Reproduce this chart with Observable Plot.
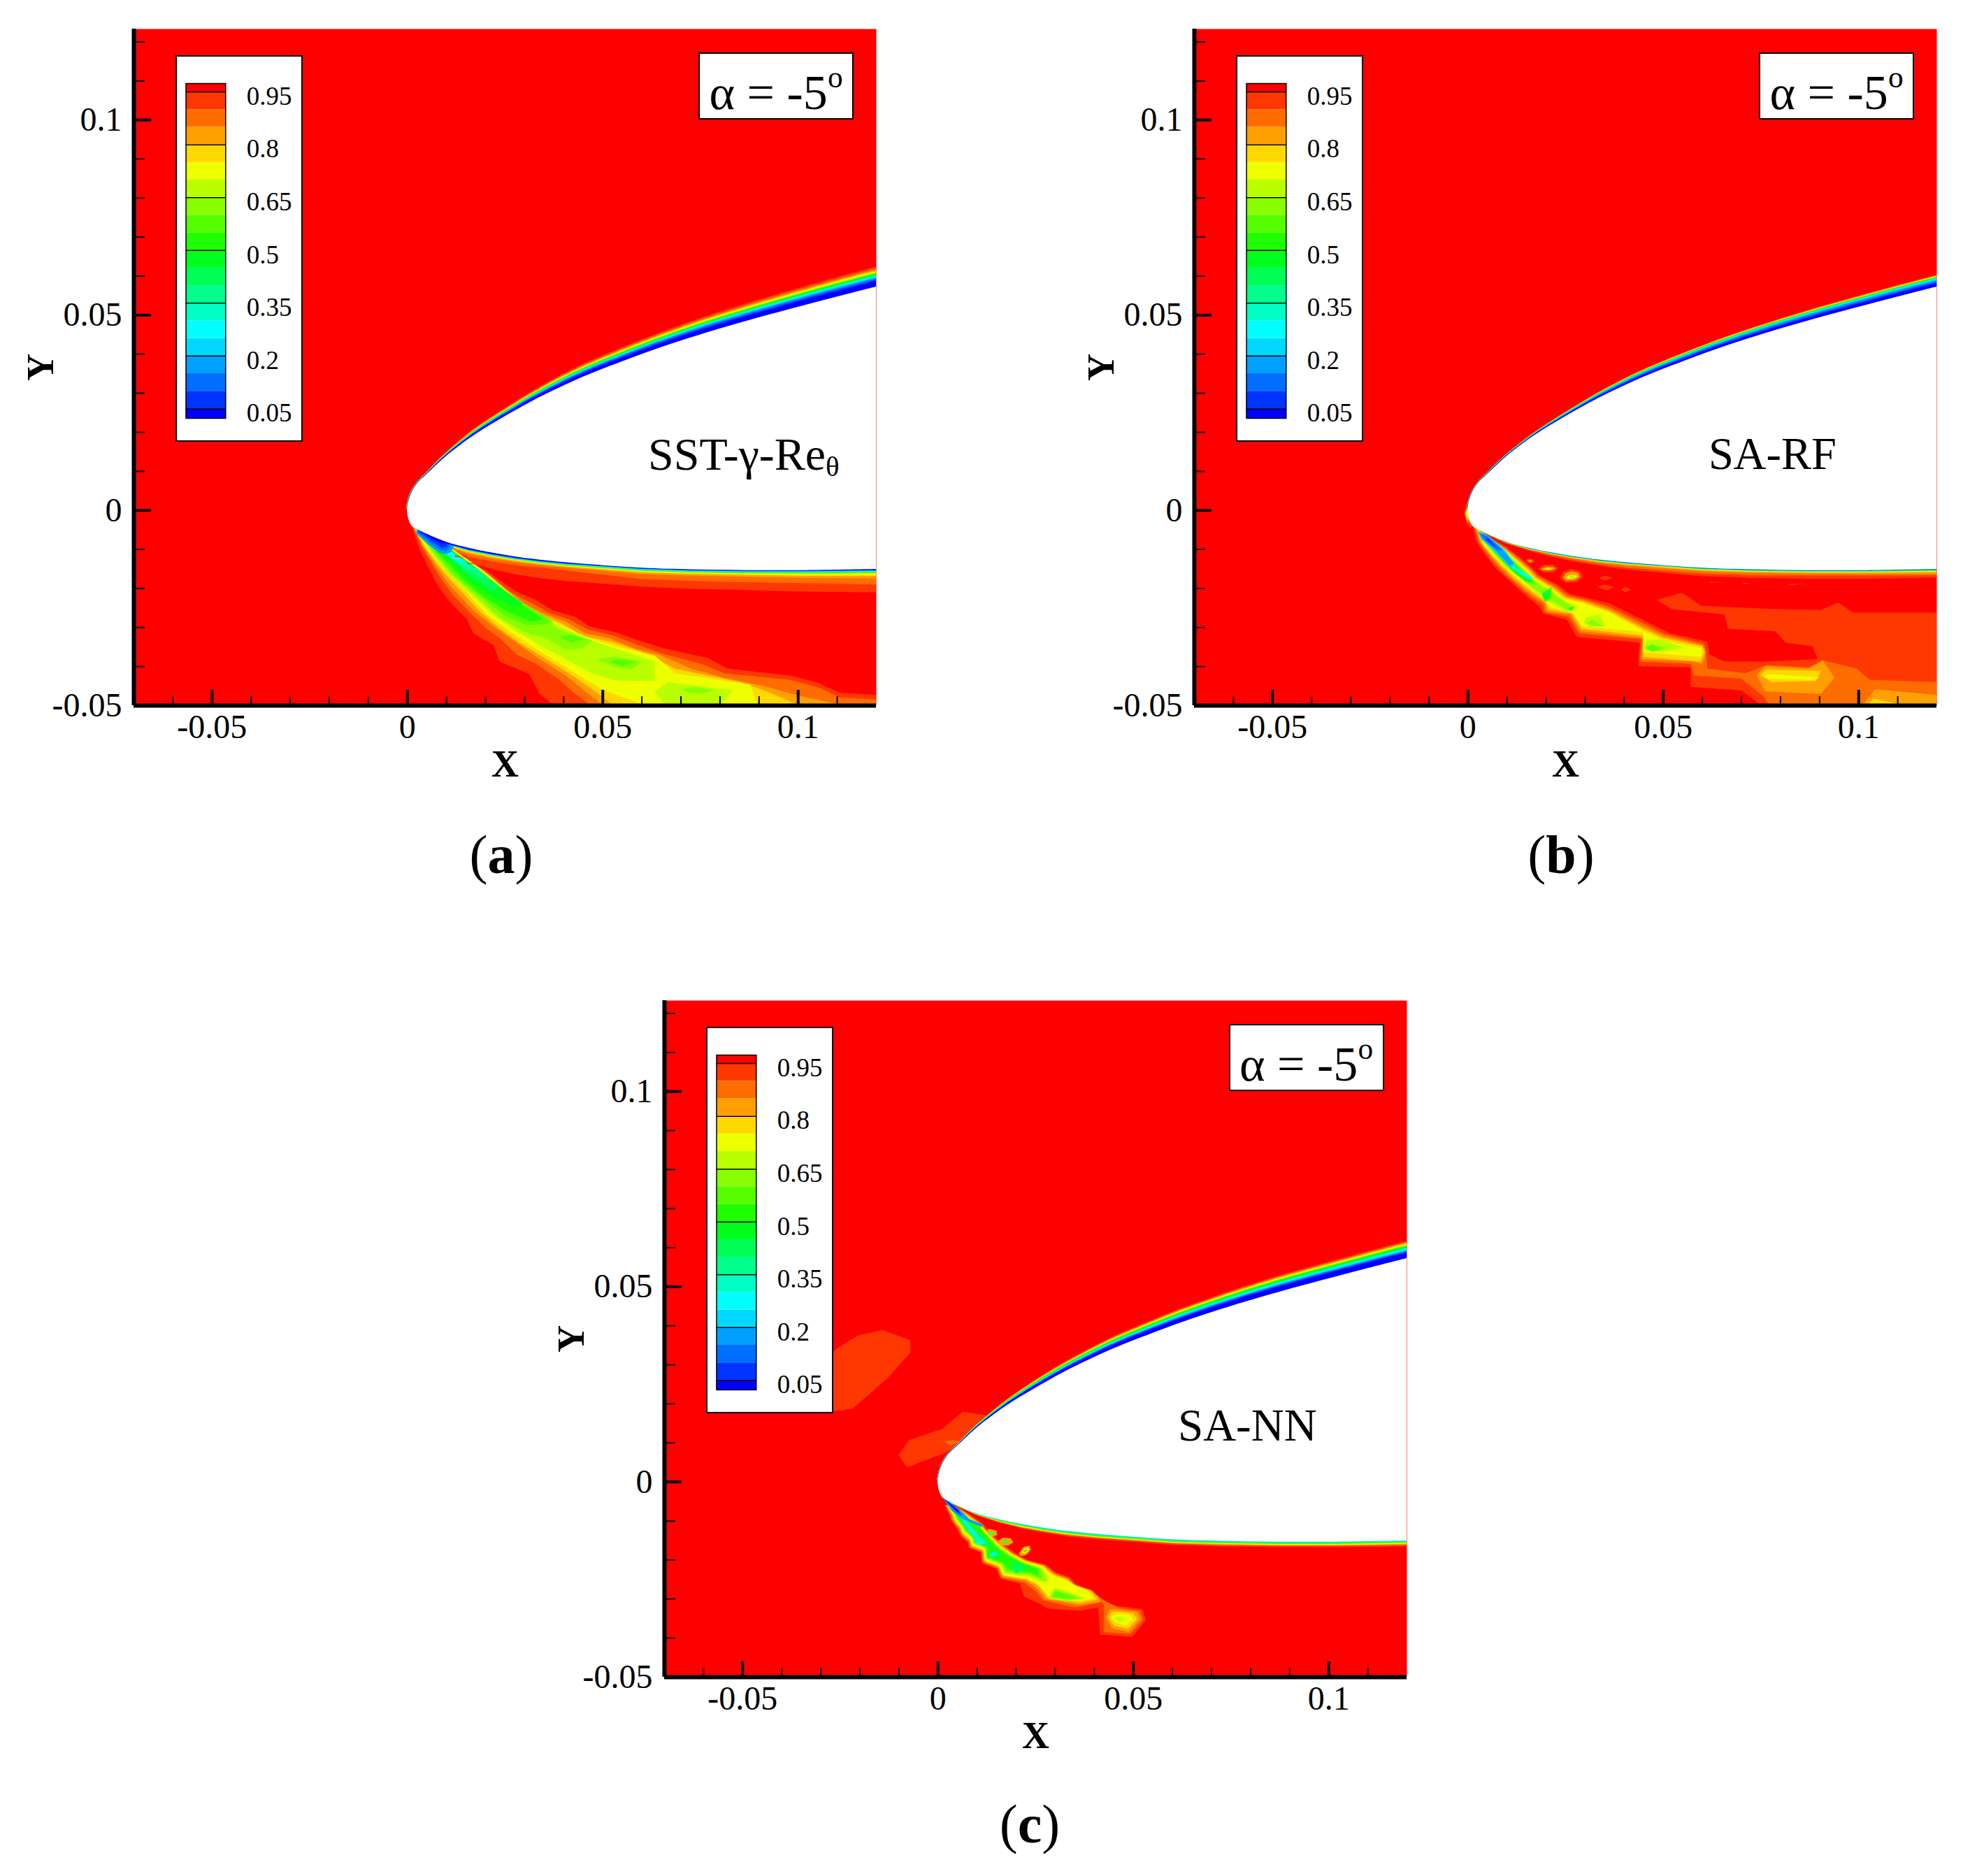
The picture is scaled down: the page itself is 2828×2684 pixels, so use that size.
<!DOCTYPE html>
<html><head><meta charset="utf-8">
<script src="https://cdn.jsdelivr.net/npm/d3@7"></script>
<script src="https://cdn.jsdelivr.net/npm/@observablehq/plot@0.6"></script>
<style>
html,body{margin:0;background:#fff}
#page{position:relative;width:2828px;height:2684px;font-family:"Liberation Serif",serif;color:#000;overflow:hidden}
#page svg{position:absolute;overflow:visible}
.box{position:absolute;background:#fff;border:2px solid #000;box-sizing:border-box}
.txt{position:absolute;line-height:1;white-space:nowrap}
sub{font-size:.62em;line-height:0;vertical-align:-.22em}
sup{font-size:.62em;line-height:0;vertical-align:.72em}
</style></head><body><div id="page"></div>
<script>
// contour levels and colours (from the legend)
const thresholds=[.05,.1,.15,.2,.25,.3,.35,.4,.45,.5,.55,.6,.65,.7,.75,.8,.85,.9,.95];
const contourColors=["#0000ff","#0034ff","#006eff","#00a0ff","#00d8ff","#00ffff","#00ffc4","#00ff8c","#00ff55","#00ff1e","#1eff00","#55ff00","#88ff00","#b9ff00","#eeff00","#ffd800","#ffa000","#ff6c00","#ff3700","#ff0000"];
const legendTicks=[.05,.2,.35,.5,.65,.8,.95];
const legendDomain=[.023,.974];
const bandValues=[.925,.875,.825,.775,.725,.675,.625,.575,.525,.475,.425,.375,.325,.275,.225,.175,.125,.075,.025];
const xMajor=[-.05,0,.05,.1];
const yMajor=[-.05,0,.05,.1];
const xMinor=[-.06,-.04,-.03,-.02,-.01,.01,.02,.03,.04,.06,.07,.08,.09,.11];
const yMinor=[-.04,-.03,-.02,-.01,.01,.02,.03,.04,.06,.07,.08,.09,.11,.12];
const xDomain=[-.07,.12];
const yDomain=[-.05,.1233];

// airfoil surface, in thousandths of the x/y units
const upperSurface=[[-.1,.5],[.63,3.67],[2.24,6.65],[4.92,9.33],[9.7,13.8],[16.85,19.2],[21.6,22.2],[27.6,25.7],[33.5,28.9],[39.5,31.8],[45.5,34.5],[54.4,38],[63.4,41.3],[75.3,45.2],[87.2,48.7],[104.6,53.4],[120.5,57.5]];
const lowerSurface=[[.15,-1.7],[1.04,-3.8],[3.7,-5.4],[9.7,-7.96],[15.65,-9.57],[21.6,-10.8],[27.6,-11.8],[33.5,-12.6],[40.7,-13.3],[60,-14.7],[72.6,-15.1],[87,-15.3],[102,-15.3],[120.5,-15]];

// upper boundary-layer thickness at each surface station
const aUpperThickness=[.3,.3,.3,.4,.7,1.3,1.6,1.9,2.3,2.7,3,3.3,3.6,4,4.3,4.7,4.9];
const bUpperThickness=[.3,.2,.2,.3,.4,.6,.8,1,1.3,1.6,1.8,2,2.2,2.4,2.6,2.8,2.9];
const cUpperThickness=[.2,.2,.25,.3,.6,1.1,1.5,1.9,2.2,2.5,2.8,3.1,3.4,3.7,4,4.1,4.2];
// share of that thickness reached by each band
const aUpperShare=[1,.92,.85,.8,.77,.74,.7,.67,.645,.62,.6,.575,.55,.52,.49,.45,.4,.34,.27];
const bUpperShare=[1,.95,.92,.89,.87,.85,.83,.81,.79,.77,.75,.72,.69,.66,.62,.55,.46,.36,.27];
const cUpperShare=[1,.95,.9,.86,.83,.8,.77,.74,.71,.68,.65,.61,.57,.53,.49,.45,.41,.37,.33];

// lower boundary layer: [band, thickness at each station]
const aLower=[
[.925,[.2,.3,.6,1.5,3.8,4.2,4.6,4.7,4.8,4.8,5,5.1,5.5,6]],
[.875,[.15,.25,.5,1.2,2.3,2.3,2.2,2,2.1,2.9,3,3.1,3.5,4]],
[.825,[.12,.2,.4,1,1.6,1.5,1.45,1.4,1.4,1.6,1.6,1.7,2,2.4]],
[.775,[.1,.17,.35,.9,1.2,1.15,1.1,1.05,1.1,1.2,1.2,1.25,1.5,1.8]],
[.725,[.1,.15,.3,.8,1.05,1,1,.95,1,1,1,1.05,1.25,1.5]],
[.575,[.08,.12,.25,.7,.9,.85,.85,.8,.8,.8,.8,.8,.9,1.05]],
[.325,[.06,.1,.2,.6,.75,.7,.65,.6,.6,.55,.55,.55,.6,.7]],
[.225,[.05,.08,.18,.55,.65,.6,.55,.5,.5,.45,.45,.42,.45,.55]],
[.125,[.04,.06,.15,.5,.55,.5,.45,.4,.38,.32,.3,.28,.3,.4]],
[.025,[.03,.05,.12,.4,.45,.4,.32,.28,.25,.2,.15,.13,.13,.25]]];
const bLower=[
[.925,[.1,.1,.2,.5,.8,1.1,1.4,1.6,1.9,2.2,2.2,2.2,2.2,2.2]],
[.875,[.08,.1,.18,.4,.6,.8,1,1.2,1.4,1.5,1.5,1.4,1.4,1.6]],
[.825,[.07,.09,.15,.3,.45,.55,.65,.75,.85,.9,.9,.9,1,1.3]],
[.725,[.06,.08,.12,.25,.35,.4,.45,.5,.55,.6,.6,.6,.6,.75]],
[.575,[.05,.07,.1,.2,.28,.32,.35,.38,.4,.42,.42,.42,.42,.5]],
[.325,[.04,.06,.08,.16,.22,.25,.27,.28,.3,.32,.32,.3,.3,.36]],
[.125,[.03,.04,.06,.12,.16,.18,.2,.2,.22,.22,.2,.2,.2,.25]]];
const cLower=[
[.925,[.1,.15,.25,.5,.9,1.2,1.3,1.4,1.4,1.4,1.4,1.4,1.4,1.5]],
[.825,[.08,.12,.2,.4,.7,.95,1,1.05,1.05,1.05,1.05,1.05,1.05,1.1]],
[.725,[.07,.1,.18,.35,.55,.75,.8,.85,.85,.85,.8,.8,.8,.85]],
[.575,[.06,.09,.15,.3,.45,.55,.6,.65,.65,.65,.6,.6,.6,.6]],
[.375,[.05,.07,.12,.22,.3,.35,.4,.4,.4,.4,.35,.35,.35,.3]],
[.225,[.03,.05,.08,.12,.15,.18,.2,.22,.22,.22,.2,.2,.15,.1]]];

// wake contours: [band, x,y, x,y, ...] in thousandths
const aWake=[
[.925,[1,-3.5,2.1,-7.07,3.4,-10.65,5.5,-14.8,7.6,-19,10.6,-23.2,15.2,-27.9,16.9,-31.5,22,-34.5,23.6,-38.7,31.3,-42,33.8,-47,37.2,-49.7,37.2,-51,121,-51,120.3,-47.3,110.6,-46.7,104.7,-44,98,-42.3,81.9,-40.5,76.9,-37.8,65.9,-35.4,59.1,-33.3,53.2,-31.2,46.5,-29.7,43.1,-27.3,37.2,-25.6,32.9,-22.9,27.9,-20.8,23.6,-17.8,20.3,-15.4,17.7,-14,9,-8]],
[.875,[1.2,-3.6,3.4,-8.86,5.9,-13,8.4,-17.2,11.4,-21.4,16,-26.2,20.3,-30.3,23.6,-32.7,27.9,-36.9,32.9,-39.3,38.9,-43.4,42.2,-46.4,46.5,-49.7,46.5,-51,121,-51,120.3,-48.5,110.6,-47.9,105.6,-45.5,98,-43.4,81.1,-41.7,75.2,-39.3,65,-36.6,59.1,-34.5,52.8,-32.1,46.5,-30.6,41.4,-28,36.3,-26.2,31.3,-23.5,26.2,-20.8,22.8,-18.1,19.4,-15.4,17.3,-14,9,-8]],
[.825,[1.3,-3.7,3.8,-8.86,7.2,-14.2,10.6,-19,16.9,-25.6,22,-29.7,27.9,-33.9,33.8,-38.1,40.5,-42.3,44.8,-45.8,49.8,-49.7,49.8,-51,112,-51,110.6,-49.7,100.5,-47.6,92.1,-45.2,81.1,-42.9,72.6,-40.5,64.2,-36.9,58.3,-35.4,51.5,-32.7,45.6,-31.5,40.5,-28.5,35.5,-26.7,30.4,-24.1,25.3,-20.2,21.1,-16.6,17.7,-14.2,9,-8]],
[.775,[1.4,-3.8,4.2,-9.16,8.4,-14.8,12.7,-19.6,18.6,-25.9,23.6,-30.3,29.6,-34.5,35.5,-38.1,42.2,-42.3,46.5,-45.2,52.4,-49.7,52.4,-51,101,-51,99.7,-49.7,92.1,-46.4,85.3,-44,76.9,-42.3,68.4,-40.5,61.7,-36.9,53.2,-33.9,44.8,-32.1,39.7,-29.1,33.8,-26.4,27.9,-22.6,23.6,-19,19.4,-15.4,9,-8]],
[.725,[1.5,-4,5.1,-10,9.3,-15.1,14.4,-20.2,20.3,-26.7,25.3,-30.3,31.3,-34.5,37.2,-38.1,43.9,-42.3,49.8,-45.8,60,-49.7,60,-51,89.5,-51,89.5,-49.7,87.8,-44.6,79.4,-43.4,68.4,-41.7,63.3,-37.2,53.2,-34.8,46.5,-32.7,39.7,-29.7,32.9,-26.4,27.9,-23.2,22.8,-18.4,18.6,-14.8,9,-8.5]],
[.675,[1.6,-4.1,5.9,-10.6,10.1,-16,16,-21.4,22,-26.7,27.9,-31,34.6,-34.9,41.4,-38.6,47.3,-41.8,53.2,-43.6,63.3,-43.7,63.3,-38.7,53.2,-35.4,47.3,-33.3,39.7,-30,32.9,-26.7,27.9,-23.5,22.4,-18.7,18.2,-15.1,9,-8.5]],
[.675,[66.7,-44,83.2,-46.1,80.2,-49.7,80.2,-51,66.7,-51,63.3,-46.4]],
[.625,[1.7,-4.2,6.8,-11.2,11.4,-16.6,17.3,-21.7,23.6,-27.5,29.6,-31,36,-33,40.5,-35.7,44.8,-35.4,47.3,-33.3,40.5,-31.2,37.2,-29.5,37.2,-28.2,32.9,-26.2,27.9,-22.9,22.4,-18.7,18.2,-15.1,9,-8.5]],
[.625,[48.1,-38.1,53.2,-37.5,60,-38.7,57.4,-40.8,53.2,-40.2]],
[.625,[70.1,-45.8,73.5,-45.2,78.5,-46.1,75.2,-47,71.8,-46.7]],
[.575,[1.8,-4.3,7.6,-11.5,12.7,-17.2,18.6,-22,24.5,-26.7,30.4,-29.4,35.5,-29.1,36.7,-28.1,32.1,-25.3,27,-22.3,22,-18.4,17.7,-14.8,9,-8.5]],
[.575,[38.9,-32.4,42.2,-31.8,45.2,-33,42.2,-33.9]],
[.575,[51.5,-38.7,54,-38.1,58.3,-38.7,55,-39.9]],
[.525,[1.9,-4.4,8.4,-11.5,14.4,-17.8,20.3,-22.6,26.2,-26.2,32.1,-28.5,34.6,-27.9,30.4,-25,26.2,-22,21.1,-17.8,17.3,-14.5,9,-8.5]],
[.475,[2,-4.5,8.9,-11.2,16,-18.1,22,-22.3,27.9,-24.7,29.6,-23.8,25.3,-20.8,20.3,-16.9,16.9,-14.2,9,-8.5]],
[.425,[2.2,-5.2,5.5,-8,9.3,-11,16.5,-17.2,22,-20.8,23.6,-19.6,19.4,-16.3,16.5,-14,11.4,-11]],
[.375,[2.3,-5.2,5.8,-8.3,9.3,-10.6,16,-16,20.3,-17.5,18.6,-15.4,15.6,-13.3,10.1,-10.4]],
[.325,[2.4,-5.2,6,-8.3,8.9,-10.4,14.4,-14.5,16,-14.5,14.4,-12.7,10.6,-10.2]],
[.275,[2.5,-5.2,6.2,-8.4,8.4,-10.1,12.7,-13,13.9,-12.7,10.6,-10]],
[.225,[2.3,-5.5,7.2,-9.5,9.3,-11,10.6,-10.6,9.7,-9.6]],
[.175,[2.2,-5.87,5.5,-8.85,8.2,-10.9,10,-11.2,11.2,-10.6,11.8,-9.4,11.8,-6,3,-3]],
[.125,[2.6,-5.7,5.8,-8.3,8.4,-10.2,10,-10.3,11,-9.5,11,-6,3,-3]],
[.075,[3,-5.5,6.2,-7.9,8.8,-9.6,10.2,-9.3,10.2,-6,3,-3]],
[.025,[3.4,-5.3,6.5,-7.3,9,-8.6,9.7,-8,9.7,-6,3,-3]]];
const aStreaks=[
[.925,[12.1,-11.5,14.8,-12.1,12.1,-11.9]],
[.925,[15,-13.3,18.3,-13.9,15.6,-13.7]],
[.925,[60.8,-17.8,83.6,-18.5,60.8,-18.2]],
[.925,[88.7,-18.5,116.6,-18.8,88.7,-18.8]]];

const bWake=[
[.925,[1,-3.5,2.3,-8.3,4.5,-11.5,7.1,-14.8,9.7,-17.2,13.6,-20.8,18.4,-24.7,19.3,-26.4,25.3,-28,27.9,-32.4,44,-33.9,43.5,-39.9,57,-40.2,57,-45.2,70,-46.1,74.8,-49.7,74.8,-51.2,120.5,-51,120.5,-26.2,98.6,-26.2,94.7,-23.6,90.4,-25.5,78.7,-25.3,67.8,-24.8,59.6,-24.4,54.8,-21.1,48.3,-22.9,52.2,-25.3,65.7,-26.7,66.5,-30.3,78.7,-31,81.3,-33.9,88.2,-34.8,89.5,-38.1,76.9,-38.7,65.7,-38.7,61.8,-36.9,61.3,-33.6,51.8,-31.5,45.7,-28.5,36.2,-23.8,30,-22.3,26,-21.4,22.8,-19,18.3,-16.6,16.5,-14.8,13.8,-12.4,9.9,-9.4,5,-6.4]],
[.925,[-.2,1.9,-1.1,-.5,-.2,-3.5,1,-4.7,1,1]],
[.875,[1.5,-3.8,2.8,-8.3,4.9,-11.2,7.5,-14.5,10.1,-16.9,14.5,-20.8,19.3,-24.4,19.7,-26.2,25.8,-27.3,28.4,-31.5,44.4,-33,44,-38.7,57,-39.3,57.8,-42.3,70,-43.1,75.6,-47.6,76.9,-49.7,76.9,-51.2,120.5,-51,120.5,-44,102.9,-43.4,99.5,-40.5,90.8,-38.4,87.3,-40.2,76.5,-39.6,70.9,-41.7,61.3,-40.5,60.9,-36.9,60.5,-34.2,50,-31.5,45.3,-29.1,36.2,-24.7,30,-22.8,25.7,-21.8,22.4,-19.3,18,-16.9,16.2,-15,13.5,-12.6,9.6,-9.5,4.5,-6.5]],
[.875,[-.5,-.2,-.1,-3.2,1,-3,1,0]],
[.825,[1.9,-4.1,3.2,-8.3,5.4,-11.2,8,-14.2,11,-17.2,14.9,-20.5,19.7,-23.8,20.1,-25.9,26.2,-26.7,28.8,-30.9,44.8,-32.7,44.4,-38.1,57.4,-38.7,60,-39.3,60.9,-36.3,60,-34.5,50,-32.1,44.8,-29.7,36.2,-25.3,29.8,-23.1,25.3,-22.1,22,-19.6,17.7,-17.1,16,-15.2,13.2,-12.8,9.3,-9.5,4,-6.5]],
[.825,[73.9,-42.2,76.1,-39.9,87.3,-40.5,90.8,-38.4,93.8,-42.8,90.4,-47,76.1,-46.4]],
[.825,[101.2,-49.7,104.2,-45.8,120.1,-47.3,120.5,-51,101.2,-51]],
[.775,[2.3,-4.4,3.6,-8.6,5.8,-11.2,8.4,-14,11.4,-16.9,15.4,-20.2,19.7,-23.2,20.6,-25.3,26.6,-26.4,29.1,-30.3,44.8,-32.1,44.8,-37.5,59.6,-38.7,60.5,-36.3,60,-34.8,50,-32.7,44.8,-30.3,36.2,-25.8,29.5,-23.4,25,-22.4,21.7,-19.8,17.4,-17.3,15.7,-15.4,13,-13,9.1,-9.7,3.2,-5.3]],
[.775,[-.2,.7,-.7,-.8,-.2,-2.9,.7,-1.1]],
[.775,[74.8,-42.2,76.1,-40.8,90.4,-41.1,89.1,-43.7,77.8,-44]],
[.775,[102.5,-49.7,103.8,-48.2,110.8,-49.7,110.8,-51,102.5,-51]],
[.725,[2.8,-5,4.1,-8.9,6.2,-11.2,8.8,-13.6,11.9,-16.6,15.8,-19.9,19.7,-22.6,21,-24.7,26.6,-26.1,29.2,-29.7,44.8,-31.2,44.8,-36.3,59.6,-37.5,60,-35.4,50,-33.3,44.8,-30.9,36.2,-26.2,29.2,-23.7,24.6,-22.7,21.3,-20,17.1,-17.5,15.4,-15.6,12.7,-13.1,8.8,-9.7,3.2,-5.6]],
[.725,[-.6,-.2,-.4,-1.8,.5,-1.8,.5,0]],
[.725,[75.6,-42.2,77.8,-42,89.9,-42.8,88.2,-43.4,76.9,-43.1]],
[.675,[3.6,-5.9,4.9,-9.5,7.1,-11.8,10.1,-14.8,13.2,-17.2,16.2,-19.9,19.3,-22.6,25.3,-26.1,27.5,-25,21,-20.4,16.8,-17.7,15.1,-15.8,12.5,-13.2,8.6,-9.8]],
[.675,[29.7,-29.1,30.1,-27.3,33.6,-26.7,35.3,-29.7]],
[.675,[44.8,-35.7,45.7,-33.3,49.2,-33,55.2,-35.1,50,-36.3]],
[.625,[4.1,-6.2,5.8,-10,8,-12.4,11,-15.4,14.1,-17.8,17.1,-20.2,19.7,-22,25.3,-25.5,27.1,-25,20.7,-20.6,16.5,-17.9,14.9,-16,12.3,-13.4,8.4,-10]],
[.625,[30.5,-28.8,31.8,-28,34.9,-29.7,31,-29.7]],
[.625,[45.3,-35.4,47,-34.2,50.9,-35.4,47.4,-36.3]],
[.575,[4.5,-6.5,6.7,-10.6,8.8,-13,11.9,-16,14.9,-18.4,17.5,-19,16.3,-18,14.7,-16.2,12.1,-13.5,8.2,-10.1]],
[.575,[18.8,-21.4,21.4,-19.6,21.4,-22.6,19.7,-23.5]],
[.575,[25.3,-25.1,27.5,-24.4,26.6,-25.9]],
[.575,[45.3,-35.1,47.4,-34.5,49.6,-35.6,47,-36]],
[.525,[4.9,-6.8,7.1,-11,9.3,-13.3,12.3,-16.3,15.4,-18.4,17.5,-18.5,16.1,-18.1,14.5,-16.3,11.9,-13.6,8,-10.2]],
[.525,[19,-21.4,21.1,-19.9,21.1,-22.3,19.7,-23.2]],
[.525,[25.7,-25.1,27.2,-24.5,26.6,-25.5]],
[.475,[5.3,-7.1,7.5,-11.2,9.7,-13.6,12.7,-16.3,15.4,-18.3,16.7,-18.2,15.9,-17.9,14.3,-16.4,11.7,-13.7,7.8,-10.2]],
[.475,[19.3,-21.4,20.7,-20.3,20.7,-22.1,19.7,-22.9]],
[.425,[5.8,-7.4,8,-11.5,10.6,-14.5,13.6,-16.6,15.8,-18.1,16.8,-18,15.7,-17.6,14.1,-16.2,11.5,-13.7,7.6,-10]],
[.425,[19.4,-21.4,20.6,-20.6,20.4,-21.9]],
[.375,[6.2,-7.7,8.3,-11.3,11,-14.5,14,-16.9,15.8,-17.7,16.7,-17.7,15.6,-17.2,13.9,-15.9,11.3,-13.7,7.4,-9.9]],
[.325,[6.6,-8,8.6,-11.3,11.4,-14.8,14.5,-16.9,15.9,-17.5,16.6,-17.5,15.5,-16.9,13.7,-15.6,11.2,-13.8,7.2,-9.8]],
[.275,[6.9,-8.3,8.8,-11.5,11.9,-14.8,14.5,-16.9,16.2,-17.5,16.4,-17.2,13.5,-15.4,11.1,-13.8,7,-9.7]],
[.225,[3.4,-7.4,6.95,-10.6,11.1,-14.8,12,-13.6,9.3,-10,5.2,-6.5,2.5,-5.3]],
[.175,[3.7,-7.4,7.2,-10.3,10.8,-14.2,11.7,-13.6,9,-10.2,5.2,-6.8,2.8,-5.6]],
[.125,[4,-7.1,7.6,-10.2,9,-10.3,5.2,-6.8,3.1,-5.9]],
[.075,[4.3,-7.4,6.35,-8.9,7.5,-9.8,5.2,-7.1]],
[.925,[14.6,-13,15.4,-12.3,16.6,-12.4,17,-13.2,16,-13.7]],
[.825,[15.2,-13,16,-12.6,16.6,-13,15.8,-13.3]],
[.925,[18,-15,19.3,-14,21.5,-13.8,23.2,-14.8,21.8,-15.9,19.3,-15.8]],
[.825,[18.6,-15,20,-14.4,21.8,-14.5,22.5,-15,21,-15.4,19.3,-15.4]],
[.725,[19.3,-15,20.5,-14.7,21.6,-15,20.5,-15.2]],
[.925,[23.6,-17.3,24.3,-15.7,26.5,-15,28.7,-15.6,29.5,-17,27.8,-18.4,25,-18.6]],
[.825,[24.3,-17.3,25,-16.1,26.5,-15.6,28.2,-16,28.7,-17,27.3,-17.9,25.2,-18]],
[.725,[25,-17.2,26,-16.6,27.8,-16.6,28,-17,26.5,-17.5,25.3,-17.5]],
[.625,[25.7,-17,27,-16.7,27.5,-17,26.3,-17.2]],
[.925,[33.5,-17.3,35,-16.7,37,-17.3,35,-18]],
[.925,[33,-19.6,35,-19,37.5,-19.7,35.5,-20.5]],
[.925,[39.2,-20.2,40.4,-19.6,41.7,-20.3,40.3,-21]],
[.925,[61.8,-18.3,66,-18.3,61.8,-18.6]],
[.925,[70.4,-18.6,72.6,-18.6,70.4,-18.9]],
[.925,[82,-18.8,87,-18.8,82,-19.1]]];
const bStreaks=[];

const cWake=[
[.925,[1.6,-5.9,2.8,-8.3,3.4,-10,4.9,-12.1,5.8,-14,7.6,-15.4,7.9,-16.9,10.9,-18.1,11.2,-20.8,15,-22.3,15.9,-24.7,21,-26.1,22,-29.4,26.7,-31.5,27.9,-32.4,36.2,-33,41,-32.2,41.5,-39.1,49.7,-39.7,53.2,-35.3,52.3,-32.6,46.2,-31.8,43.6,-31.2,39.8,-28.2,35.6,-26.7,33.8,-24.4,30.2,-23.2,27.5,-21.1,23,-20,19.5,-18,16.5,-15.8,12.9,-12.6,11.5,-10.6,6,-7]],
[.925,[-30.1,17.7,-26.6,33.7,-20.6,37.5,-14.1,38.9,-7.1,36.3,-7.1,33.1,-12.8,26.7,-21.9,18.7]],
[.925,[-10.1,6.9,-7.5,10.7,1.1,13.6,6.3,18,12.4,17.1,6.3,10.1,2,7.5,-4.9,4.9,-7.9,3.7]],
[.875,[1.1,10.4,3.7,10.7,5.9,10.3,3.3,9.3]],
[.875,[1.8,-5.9,3,-8.2,3.6,-9.9,5.1,-11.9,6,-13.8,7.8,-15.2,8.1,-16.7,11.1,-17.9,11.4,-20.6,15.2,-22.1,16.1,-24.5,22,-25.8,25,-28,26.9,-30.3,35,-32.2,41,-31,42,-30.8,42.5,-31.5,42.5,-38.5,49.2,-39,52.5,-35.3,51.7,-33,46,-32.2,41,-29.5,39.5,-27.8,35.2,-26.5,33.4,-24.6,30,-23.4,27.3,-21.3,22.8,-20.1,19.3,-18.2,16.3,-16,12.8,-12.8,11.3,-10.8,6,-7]],
[.825,[2,-5.9,3.3,-8.2,3.9,-9.8,5.4,-11.8,6.2,-13.6,8,-15,8.3,-16.5,11.3,-17.7,11.6,-20.4,15.4,-21.9,16.3,-24.2,22.5,-25.3,25,-27,27.5,-30,36,-31.5,40.5,-30.8,41.5,-30.6,41,-29.3,39,-27.6,35,-26.3,33.2,-24.8,29.8,-23.6,27.1,-21.4,22.6,-20.2,19.1,-18.3,16.1,-16.1,12.7,-12.9,11.1,-10.9,6,-7.2]],
[.825,[43,-34.6,44.5,-37.5,48.8,-38.4,51.8,-35.2,50.9,-33.2,46,-32.6,44,-32.6]],
[.775,[2.2,-5.9,3.5,-8.1,4.1,-9.7,5.6,-11.7,6.4,-13.4,8.2,-14.8,8.5,-16.3,11.5,-17.5,11.8,-20.2,15.6,-21.7,16.5,-24,22.5,-25,25.5,-26.4,28,-29.6,36,-31,40.3,-30.2,40.8,-30,38.8,-27.8,35,-26.5,33,-25,29.6,-23.8,26.9,-21.5,22.4,-20.3,18.9,-18.4,15.9,-16.2,12.6,-13,10.9,-11,6,-7.4]],
[.775,[43.6,-34.6,45,-36.8,48.6,-37.6,51,-35.2,49.8,-33.6,46,-33.2,44.5,-33.2]],
[.725,[2.4,-5.9,3.7,-8,4.3,-9.6,5.8,-11.6,6.6,-13.2,8.4,-14.6,8.7,-16.1,11.7,-17.3,12,-20,15.8,-21.5,16.7,-23.8,23,-24.8,25.7,-26.2,28.2,-29.2,36,-30.5,39.8,-29.8,38.4,-28,34.8,-26.5,32.7,-25.2,29.4,-24,26.7,-21.7,22.2,-20.4,18.7,-18.5,15.7,-16.3,12.5,-13.1,10.7,-11.1,6,-7.6]],
[.725,[44.2,-34.6,45.5,-36,48,-36.8,50,-35.2,49,-34,46,-33.8]],
[.675,[45,-35,46.5,-34.5,48,-35.2,46.5,-36]],
[.675,[2.6,-5.9,3.9,-7.9,4.5,-9.5,6,-11.5,6.8,-13,8.6,-14.4,8.9,-15.9,11.9,-17.1,12.2,-19.8,16,-21.3,17,-23.5,23.5,-24.4,26,-25.5,28.4,-25.6,26.4,-22,22,-20.5,18.5,-18.6,15.5,-16.4,12.4,-13.2,10.6,-11.2,6,-7.8]],
[.675,[28.4,-29.9,29.8,-27,38,-29.9,33.8,-30.6]],
[.625,[2.8,-5.9,4.1,-7.9,4.7,-9.4,6.2,-11.4,7,-12.8,8.8,-14.2,9.1,-15.7,12.1,-16.9,12.4,-19.6,16.2,-21.1,17.3,-23.2,24,-24,26.5,-25.2,28,-25.4,26.2,-22.1,21.8,-20.6,18.3,-18.8,15.3,-16.6,12.3,-13.3,10.5,-11.3,6,-8]],
[.625,[28.7,-29.6,30,-27.5,37,-29.8,33.5,-30.2]],
[.575,[3,-5.9,4.3,-7.9,4.9,-9.3,6.4,-11.3,7.2,-12.6,9,-14,9.3,-15.5,12.3,-16.7,12.6,-19.4,16.5,-20.9,17.6,-22.8,24,-23.6,26.6,-24.8,25.8,-22.2,21.7,-20.7,18.2,-18.9,15.2,-16.7,12.2,-13.4,10.5,-11.4,6,-8.2]],
[.575,[29,-29.3,30.2,-28,35.5,-29.8,32.5,-29.9]],
[.525,[3.2,-5.9,4.5,-7.9,5.1,-9.2,6.6,-11.2,7.4,-12.4,9.2,-13.8,9.5,-15.3,12.5,-16.5,12.8,-19.2,16.8,-20.7,18,-22.3,24,-23.2,25.5,-24,25.5,-22.3,21.5,-20.9,18,-19,15,-16.8,12.1,-13.4,10.5,-11.4,6,-8]],
[.425,[3.5,-6,5,-8.5,6.5,-11,8,-13,9.5,-15.2,12,-16.6,13.5,-16,11.5,-14,9.5,-12,6,-8.5]],
[.425,[12.4,-19.5,14.1,-17.2,15.9,-18.5,14,-19.4]],
[.425,[18.3,-21.5,20.3,-20.5,23,-22,20,-23.5]],
[.325,[3.6,-6,5.5,-8.8,7,-11.2,9.5,-14.8,11.2,-16,12.3,-15.5,10.5,-14,8.5,-11.5,5.8,-8]],
[.325,[13,-19,14.2,-17.8,15.4,-18.5,14,-19.1]],
[.275,[9.6,-15.4,10.8,-15.2,11.8,-15.8,10.6,-16.2]],
[.275,[13.4,-18.9,14.2,-18.1,15,-18.6,14,-18.9]],
[.175,[.9,-3.6,3.5,-7.4,6,-9.3,9,-10.6,11,-11.5,11.6,-11,8,-9.5,5.5,-7,2.8,-5]],
[.075,[1.1,-3.8,4,-7.1,6.1,-8.7,5.2,-7.1,2.5,-5]],
[.025,[1.3,-3.9,4,-6.8,5.5,-8,4.8,-6.9,2.6,-5.1]],
[.825,[11.8,-13,13,-12,15,-12.5,15.2,-13.6,13.8,-14.1,12.5,-13.9]],
[.575,[12.6,-13,13.5,-12.6,14.6,-13.1,13.6,-13.6]],
[.275,[13,-13,13.6,-12.8,14.2,-13.1,13.6,-13.3]],
[.825,[15.3,-15.2,16.5,-14.3,18.6,-14.4,19.3,-15.5,18,-16.3,16,-16.2]],
[.575,[16,-15.2,17,-14.8,18.5,-15.3,17.3,-15.8]],
[.375,[16.6,-15.3,17.2,-15,18,-15.3,17.2,-15.5]],
[.825,[20.7,-18.3,21.8,-16.7,23.4,-16.3,23.8,-17.3,22.6,-18.7,21.2,-19]],
[.725,[21.2,-18.2,22.1,-17.1,23.2,-16.8,23.2,-17.5,22.3,-18.3]],
[.525,[21.8,-17.8,22.6,-17.2,22.8,-17.6,22.2,-18]]];
const cStreaks=[
[.975,[9.4,-8.9,12.9,-9.7,10.9,-10.3]],
[.875,[4.6,-6.2,5.8,-7,5,-6.9]]];

const W=1062,H=968,ml=180,mr=10,mt=10,mb=120;
const serif='"Liberation Serif",serif';
const colorScale={type:"threshold",domain:thresholds,range:contourColors};
const page=document.getElementById("page");

function flat(list,start){
  return list.flatMap(([v,p],i)=>{
    const out=[];
    for(let k=0;k<p.length;k+=2) out.push({x:p[k]/1000,y:p[k+1]/1000,v,id:start+"-"+i});
    return out;
  });
}
function upperBands(thick,share){
  return bandValues.map((v,b)=>{
    const p=[];
    upperSurface.forEach(([x,y],i)=>{
      const a=upperSurface[Math.max(i-1,0)],c=upperSurface[Math.min(i+1,upperSurface.length-1)];
      const dx=c[0]-a[0],dy=c[1]-a[1],l=Math.hypot(dx,dy),t=thick[i]*share[b];
      p.push(x-dy/l*t,y+dx/l*t);
    });
    // run on past the right edge of the frame, then close inside the airfoil
    const yEnd=p[p.length-1];
    p.push(145,yEnd+6,190,yEnd+18,190,10,2,1);
    return [v,p];
  });
}
function lowerBands(table){
  return table.map(([v,t])=>{
    const p=[];
    lowerSurface.forEach(([x,y],i)=>p.push(x,y-t[i]));
    p.push(121,5,.5,.5);
    return [v,p];
  });
}
const airfoil=[...upperSurface.slice().reverse(),...lowerSurface].map(([x,y])=>({x:x/1000,y:y/1000}));

function panel(o){
  const polys=[...lowerBands(o.lower),...o.wake].map((d,i)=>[d,i])
    .sort((a,b)=>b[0][0]-a[0][0]||a[1]-b[1]).map(d=>d[0]);
  const rows=flat(polys,"p").concat(flat(o.streaks,"s"));
  const upperRows=flat(upperBands(o.thick,o.share),"u");
  const chart=Plot.plot({
    width:ml+W+mr,height:mt+H+mb,marginLeft:ml,marginRight:mr,marginTop:mt,marginBottom:mb,
    x:{domain:xDomain},y:{domain:yDomain},color:colorScale,
    style:{background:"transparent",fontFamily:serif,color:"#000",overflow:"visible"},
    marks:[
      Plot.frame({fill:"#ff0000",stroke:"none"}),
      Plot.line(rows,{x:"x",y:"y",z:"id",fill:"v",stroke:"none",clip:true}),
      Plot.line(upperRows,{x:"x",y:"y",z:"id",fill:"v",stroke:"none",clip:true,curve:"catmull-rom"}),
      Plot.line(airfoil,{x:"x",y:"y",fill:"#fff",stroke:"none",clip:true,curve:"catmull-rom"}),
      Plot.ruleX(xMinor,{insetTop:H-13,strokeWidth:2,stroke:"#000"}),
      Plot.ruleX(xMajor,{insetTop:H-22,strokeWidth:4,stroke:"#000"}),
      Plot.ruleY(yMinor,{insetRight:W-16,strokeWidth:2,stroke:"#000"}),
      Plot.ruleY(yMajor,{insetRight:W-25,strokeWidth:4,stroke:"#000"}),
      Plot.ruleX([xDomain[0]],{strokeWidth:6,stroke:"#000"}),
      Plot.ruleY([yDomain[0]],{strokeWidth:6,stroke:"#000"}),
      Plot.axisX({ticks:xMajor,tickSize:0,tickPadding:12,fontSize:48,label:null,tickFormat:String}),
      Plot.axisY({ticks:yMajor,tickSize:0,tickPadding:17,fontSize:48,label:null,tickFormat:String}),
      Plot.text(["X"],{frameAnchor:"bottom",textAnchor:"middle",lineAnchor:"middle",dy:84,fontSize:54,fontWeight:"bold"}),
      Plot.text(["Y"],{frameAnchor:"left",textAnchor:"middle",lineAnchor:"middle",dx:-133,rotate:-90,fontSize:54,fontWeight:"bold"})
    ]
  });
  chart.style.left=(191+o.dx-ml)+"px";
  chart.style.top=(41+o.dy-mt)+"px";
  page.appendChild(chart);

  // colour legend
  const edges=[legendDomain[0],...thresholds,legendDomain[1]];
  const bands=contourColors.map((c,i)=>({lo:edges[i],hi:edges[i+1],v:(edges[i]+edges[i+1])/2}));
  const legend=Plot.plot({
    width:182,height:553,marginLeft:14.6,marginRight:110.7,marginTop:40,marginBottom:34,
    x:{domain:[0,1],axis:null},y:{domain:legendDomain},color:colorScale,
    style:{background:"#fff",fontFamily:serif,color:"#000",outline:"2px solid #000",outlineOffset:"-2px"},
    marks:[
      Plot.rect(bands,{x1:0,x2:1,y1:"lo",y2:"hi",fill:"v"}),
      Plot.ruleY(legendTicks,{stroke:"#000",strokeWidth:1.5}),
      Plot.frame({stroke:"#000",strokeWidth:1.5}),
      Plot.axisY({anchor:"right",ticks:legendTicks,tickSize:0,tickPadding:30,fontSize:37,label:null,tickFormat:String,dy:6.5})
    ]
  });
  legend.style.left=(251+o.dx)+"px";
  legend.style.top=(79+o.dy)+"px";
  page.appendChild(legend);

  // angle box
  const box=document.createElement("div");
  box.className="box";
  box.style.cssText=`left:${999+o.dx}px;top:${75+o.dy}px;width:222px;height:96px`;
  box.innerHTML=`<div class="txt" style="left:0;right:0;text-align:center;top:21px;font-size:70px">α = -5<sup>o</sup></div>`;
  page.appendChild(box);

  // model name
  const name=document.createElement("div");
  name.className="txt";
  name.style.cssText=`left:${o.nameX}px;top:${o.nameY}px;font-size:${o.nameSize}px`;
  name.innerHTML=o.name;
  page.appendChild(name);

  // caption
  const cap=document.createElement("div");
  cap.className="txt";
  cap.style.cssText=`left:${o.capX-100}px;width:200px;text-align:center;top:${o.capY}px;font-size:78px`;
  cap.innerHTML=`(<b>${o.cap}</b>)`;
  page.appendChild(cap);
}

panel({dx:0,dy:0,thick:aUpperThickness,share:aUpperShare,lower:aLower,wake:aWake,streaks:aStreaks,name:"SST-γ-Re<sub>θ</sub>",nameX:927,nameY:617,nameSize:66,cap:"a",capX:717,capY:1184});
panel({dx:1517,dy:0,thick:bUpperThickness,share:bUpperShare,lower:bLower,wake:bWake,streaks:bStreaks,name:"SA-RF",nameX:2444,nameY:618,nameSize:64.5,cap:"b",capX:2233,capY:1184});
panel({dx:758.5,dy:1390,thick:cUpperThickness,share:cUpperShare,lower:cLower,wake:cWake,streaks:cStreaks,name:"SA-NN",nameX:1685,nameY:2007,nameSize:65,cap:"c",capX:1473,capY:2571});
</script></body></html>
